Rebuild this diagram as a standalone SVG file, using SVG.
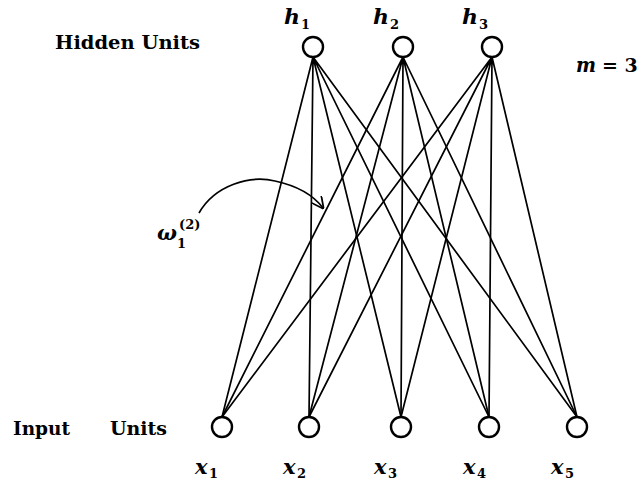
<svg xmlns="http://www.w3.org/2000/svg" width="640" height="483" viewBox="0 0 640 483">
<defs>
<style>
.n{fill:#fff;stroke:#000;stroke-width:2.4}
.e{stroke:#000;stroke-width:1.7;fill:none}
.t{font-family:'DejaVu Serif','Liberation Serif',serif;font-weight:bold;font-size:19px;fill:#000}
.m{font-family:'DejaVu Serif','Liberation Serif',serif;font-weight:bold;font-style:italic;font-size:21px;fill:#000}
.s{font-family:'DejaVu Serif','Liberation Serif',serif;font-weight:bold;font-style:normal;font-size:13px;fill:#000}
</style>
<marker id="ar" viewBox="0 0 10 10" refX="9" refY="5" markerWidth="7" markerHeight="7" orient="auto"><path d="M0,0 L10,5 L0,10" fill="none" stroke="#000" stroke-width="1.5"/></marker>
</defs>
<rect width="640" height="483" fill="#fff"/>
<g id="connectors">
<path class="e" d="M313,57 L222,417 M313,57 L309,417 M313,57 L401,417 M313,57 L489,417 M313,57 L577,417"/>
<path class="e" d="M403,57 L222,417 M403,57 L309,417 M403,57 L401,417 M403,57 L489,417 M403,57 L577,417"/>
<path class="e" d="M492,57 L222,417 M492,57 L309,417 M492,57 L401,417 M492,57 L489,417 M492,57 L577,417"/>
<path class="e" d="M199,213 C215,185 250,175 275,181 C298,186 314,196 323,208" marker-end="url(#ar)"/>
</g>
<g id="h1"><circle class="n" cx="313" cy="47" r="10"/><text class="m" x="284" y="24" textLength="16" lengthAdjust="spacingAndGlyphs">h</text><text class="s" x="301" y="29">1</text></g>
<g id="h2"><circle class="n" cx="403" cy="47" r="10"/><text class="m" x="373" y="24" textLength="16" lengthAdjust="spacingAndGlyphs">h</text><text class="s" x="390" y="29">2</text></g>
<g id="h3"><circle class="n" cx="492" cy="47" r="10"/><text class="m" x="462" y="24" textLength="16" lengthAdjust="spacingAndGlyphs">h</text><text class="s" x="479" y="29">3</text></g>
<g id="x1"><circle class="n" cx="222" cy="427" r="10"/><text class="m" x="195" y="474">x</text><text class="s" x="209" y="478">1</text></g>
<g id="x2"><circle class="n" cx="309" cy="427" r="10"/><text class="m" x="283" y="474">x</text><text class="s" x="297" y="478">2</text></g>
<g id="x3"><circle class="n" cx="401" cy="427" r="10"/><text class="m" x="374" y="474">x</text><text class="s" x="388" y="478">3</text></g>
<g id="x4"><circle class="n" cx="489" cy="427" r="10"/><text class="m" x="463" y="474">x</text><text class="s" x="477" y="478">4</text></g>
<g id="x5"><circle class="n" cx="577" cy="427" r="10"/><text class="m" x="551" y="474">x</text><text class="s" x="565" y="478">5</text></g>
<text class="t" x="55" y="49" textLength="145" lengthAdjust="spacingAndGlyphs">Hidden Units</text>
<text class="t" x="13" y="435" textLength="57" lengthAdjust="spacingAndGlyphs">Input</text>
<text class="t" x="110" y="435" textLength="57" lengthAdjust="spacingAndGlyphs">Units</text>
<text class="m" x="576" y="72" textLength="20" lengthAdjust="spacingAndGlyphs">m</text>
<text class="t" x="602" y="72" font-size="22">= 3</text>
<text class="m" x="157" y="240">ω</text>
<text class="s" x="177" y="248">1</text>
<text class="s" x="179" y="229">(2)</text>
</svg>
